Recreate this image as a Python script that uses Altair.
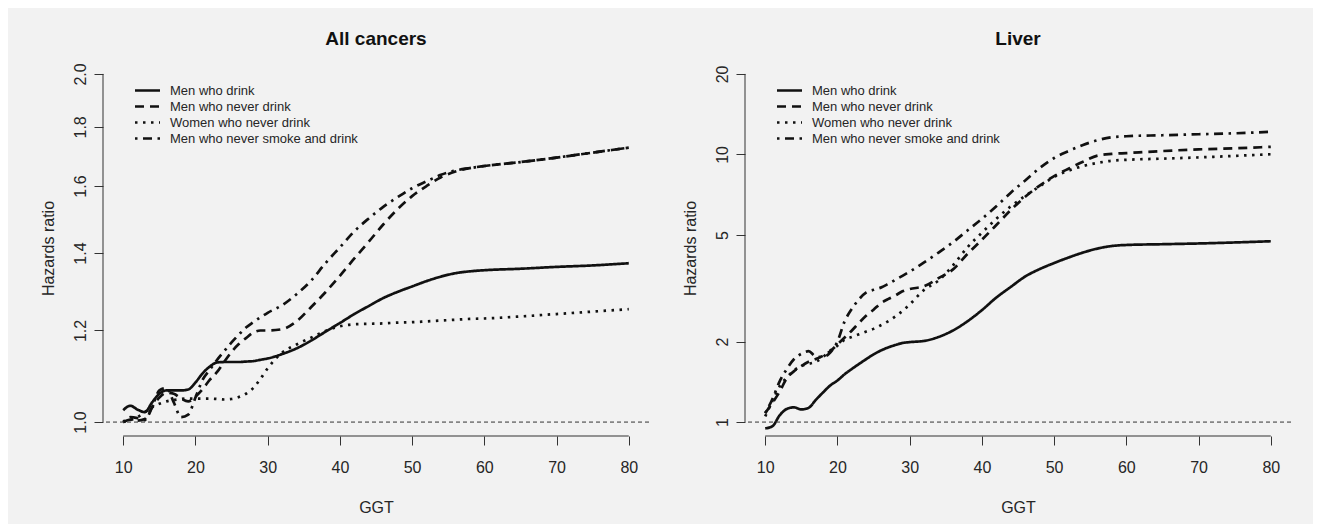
import math
import altair as alt
import pandas as pd

# ---------------- data ----------------
GGT = [10, 11, 12, 13, 14, 15, 16, 17, 18, 19, 20, 21, 22, 23, 24, 25, 26, 27, 28, 29,
       30, 32, 34, 36, 38, 40, 42, 44, 46, 48, 50, 52, 54, 56, 58, 60, 65, 70, 75, 80]

SERIES = ["Men who drink", "Men who never drink", "Women who never drink",
          "Men who never smoke and drink"]

# All cancers
all_men_drink = [1.024, 1.033, 1.025, 1.020, 1.040, 1.058, 1.065, 1.065, 1.065, 1.067,
                 1.082, 1.102, 1.117, 1.126, 1.127, 1.127, 1.127, 1.128, 1.129, 1.132,
                 1.135, 1.145, 1.158, 1.176, 1.197, 1.218, 1.240, 1.260, 1.280, 1.296,
                 1.310, 1.324, 1.336, 1.345, 1.350, 1.353, 1.357, 1.362, 1.366, 1.372]
all_men_never = [1.000, 1.005, 1.003, 1.006, 1.030, 1.050, 1.060, 1.058, 1.048, 1.042,
                 1.052, 1.068, 1.088, 1.105, 1.128, 1.150, 1.168, 1.182, 1.195, 1.200,
                 1.200, 1.203, 1.222, 1.257, 1.295, 1.338, 1.385, 1.432, 1.482, 1.528,
                 1.568, 1.600, 1.628, 1.647, 1.658, 1.665, 1.678, 1.693, 1.710, 1.727]
all_women_never = [1.000, 1.004, 1.010, 1.020, 1.030, 1.037, 1.042, 1.045, 1.047, 1.048,
                   1.048, 1.048, 1.048, 1.047, 1.046, 1.047, 1.051, 1.058, 1.070, 1.090,
                   1.113, 1.148, 1.167, 1.183, 1.199, 1.210, 1.215, 1.216, 1.217, 1.219,
                   1.220, 1.222, 1.224, 1.226, 1.228, 1.229, 1.234, 1.240, 1.246, 1.252]
all_men_never_smoke = [1.000, 1.010, 1.008, 1.004, 1.030, 1.065, 1.070, 1.040, 1.010, 1.015,
                       1.050, 1.088, 1.110, 1.132, 1.152, 1.172, 1.190, 1.207, 1.220, 1.232,
                       1.243, 1.262, 1.290, 1.325, 1.372, 1.416, 1.462, 1.500, 1.535, 1.565,
                       1.593, 1.615, 1.636, 1.650, 1.658, 1.665, 1.678, 1.693, 1.710, 1.727]

# Liver
liv_men_drink = [0.947, 0.965, 1.06, 1.12, 1.135, 1.115, 1.13, 1.21, 1.29, 1.37,
                 1.43, 1.51, 1.58, 1.65, 1.72, 1.79, 1.85, 1.90, 1.94, 1.975,
                 1.99, 2.01, 2.08, 2.20, 2.38, 2.62, 2.92, 3.20, 3.50, 3.73,
                 3.93, 4.12, 4.30, 4.45, 4.55, 4.59, 4.62, 4.65, 4.69, 4.74]
liv_men_never = [1.08, 1.18, 1.30, 1.46, 1.55, 1.62, 1.68, 1.72, 1.77, 1.84,
                 1.95, 2.07, 2.20, 2.35, 2.50, 2.63, 2.78, 2.88, 2.97, 3.08,
                 3.14, 3.22, 3.45, 3.72, 4.25, 4.80, 5.45, 6.20, 6.95, 7.65,
                 8.30, 8.85, 9.40, 9.90, 10.05, 10.12, 10.30, 10.45, 10.55, 10.68]
liv_women_never = [1.05, 1.20, 1.36, 1.47, 1.56, 1.62, 1.65, 1.68, 1.75, 1.85,
                   1.93, 2.03, 2.08, 2.13, 2.18, 2.23, 2.30, 2.38, 2.48, 2.60,
                   2.75, 3.12, 3.38, 3.85, 4.50, 5.10, 5.75, 6.40, 7.00, 7.60,
                   8.25, 8.70, 9.05, 9.30, 9.48, 9.55, 9.65, 9.75, 9.88, 10.02]
liv_men_never_smoke = [1.08, 1.22, 1.42, 1.58, 1.72, 1.80, 1.84, 1.76, 1.75, 1.82,
                       2.00, 2.38, 2.65, 2.88, 3.05, 3.12, 3.18, 3.28, 3.40, 3.52,
                       3.65, 3.95, 4.30, 4.70, 5.20, 5.75, 6.40, 7.20, 8.00, 8.90,
                       9.70, 10.30, 10.85, 11.30, 11.60, 11.70, 11.80, 11.90, 12.00, 12.15]

X_TICKS = [10, 20, 30, 40, 50, 60, 70, 80]
ALL_Y_TICKS = [1.0, 1.2, 1.4, 1.6, 1.8, 2.0]
LIV_Y_TICKS = [1, 2, 5, 10, 20]

DASHES = [[1, 0], [9, 6], [2.5, 5.5], [2.5, 5.5, 9, 5.5]]

# ---------------- layout constants ----------------
W, H = 546, 376
FONT = "Liberation Sans"
INK = "#111111"
TXT = "#262626"


def pad_lin(lo, hi, f=0.04):
    d = (hi - lo) * f
    return [lo - d, hi + d]


def pad_log(lo, hi, f=0.04):
    a, b = math.log(lo), math.log(hi)
    d = (b - a) * f
    return [math.exp(a - d), math.exp(b + d)]


def panel(title, series_values, yticks, yfmt):
    rows = []
    for name, vals in zip(SERIES, series_values):
        for g, v in zip(GGT, vals):
            rows.append({"ggt": g, "hr": v, "series": name})
    df = pd.DataFrame(rows)

    xs = alt.Scale(domain=pad_lin(min(X_TICKS), max(X_TICKS)), nice=False, zero=False)
    ys = alt.Scale(type="log", domain=pad_log(min(yticks), max(yticks)), nice=False, zero=False)

    xaxis = alt.Axis(values=X_TICKS, title="GGT", grid=False, domain=False,
                     tickSize=9, tickColor="#333333", labelFontSize=16, labelColor=TXT,
                     labelBaseline="middle", labelPadding=22, labelFlush=False,
                     labelOverlap=False, titleFontSize=16, titleColor=TXT,
                     titleFontWeight="normal", titleY=71, titleBaseline="middle")
    yaxis = alt.Axis(values=yticks, format=yfmt, title="Hazards ratio", grid=False,
                     domain=False, tickSize=9, tickColor="#333333", labelFontSize=16,
                     labelColor=TXT, labelAngle=270, labelAlign="center",
                     labelBaseline="middle", labelPadding=14, labelFlush=False,
                     labelOverlap=False, titleFontSize=16, titleColor=TXT,
                     titleFontWeight="normal", titleX=-55, titleBaseline="middle",
                     titleAlign="center")

    lines = alt.Chart(df).mark_line(color=INK, strokeWidth=2.7, interpolate="monotone",
                                    strokeCap="butt").encode(
        x=alt.X("ggt:Q", scale=xs, axis=xaxis),
        y=alt.Y("hr:Q", scale=ys, axis=yaxis),
        strokeDash=alt.StrokeDash("series:N", scale=alt.Scale(domain=SERIES, range=DASHES),
                                  legend=None),
        detail="series:N",
    )

    ref = alt.Chart(pd.DataFrame({"hr": [1.0]})).mark_rule(
        color="#333333", strokeWidth=1, strokeDash=[4, 3]).encode(
        y=alt.Y("hr:Q", scale=ys, axis=yaxis))

    xline = alt.Chart(pd.DataFrame({"ggt": [min(X_TICKS)], "ggt2": [max(X_TICKS)]})).mark_rule(
        color="#333333", strokeWidth=1).encode(
        x=alt.X("ggt:Q", scale=xs, axis=xaxis), x2="ggt2:Q", y=alt.value(H))

    yline = alt.Chart(pd.DataFrame({"hr": [min(yticks)], "hr2": [max(yticks)]})).mark_rule(
        color="#333333", strokeWidth=1).encode(
        y=alt.Y("hr:Q", scale=ys, axis=yaxis), y2="hr2:Q", x=alt.value(0))

    legend_layers = []
    for i, name in enumerate(SERIES):
        yy = 30.5 + 16 * i
        d = pd.DataFrame({"series": [name]})
        legend_layers.append(
            alt.Chart(d).mark_rule(color=INK, strokeWidth=2.5, strokeDash=DASHES[i],
                                   strokeCap="butt").encode(
                x=alt.value(32), x2=alt.value(57), y=alt.value(yy)))
        legend_layers.append(
            alt.Chart(d).mark_text(align="left", baseline="middle", fontSize=13,
                                   color=TXT, font=FONT).encode(
                text="series:N", x=alt.value(67), y=alt.value(yy)))

    return alt.layer(lines, ref, xline, yline, *legend_layers).properties(
        width=W, height=H,
        title=alt.TitleParams(title, fontSize=19, fontWeight="bold", color=INK,
                              anchor="middle", baseline="alphabetic", offset=-4, font=FONT))


left = panel("All cancers",
             [all_men_drink, all_men_never, all_women_never, all_men_never_smoke],
             ALL_Y_TICKS, ".1f")
right = panel("Liver",
              [liv_men_drink, liv_men_never, liv_women_never, liv_men_never_smoke],
              LIV_Y_TICKS, "d")

chart = alt.hconcat(left, right, spacing=96, bounds="flush").properties(
    padding={"left": 32, "top": 22, "right": 21, "bottom": 20},
    background="#f2f2f2",
).configure(font=FONT).configure_view(strokeWidth=0)

chart.save("out.html", embed_options={"renderer": "svg", "actions": False})
